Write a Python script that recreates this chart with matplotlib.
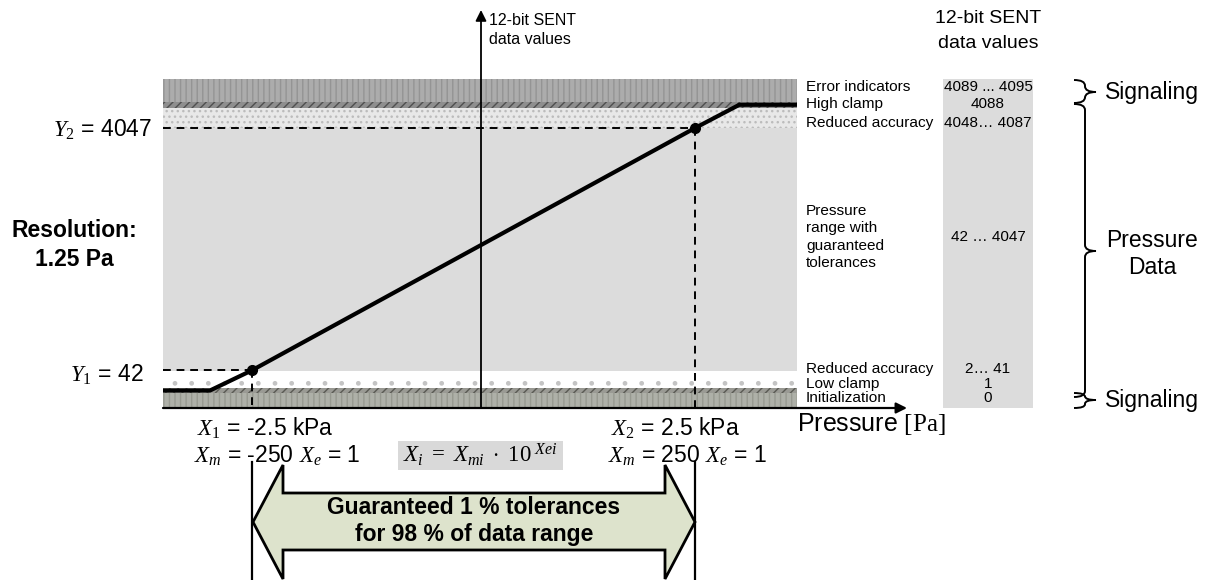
import numpy as np
import matplotlib
matplotlib.use("Agg")
import matplotlib.pyplot as plt
from matplotlib.patches import Polygon, Rectangle, PathPatch
from matplotlib.path import Path

# ---------------- data ----------------
band_labels = ["Initialization", "Low clamp", "Reduced accuracy",
               "Pressure\nrange with\nguaranteed\ntolerances",
               "Reduced accuracy", "High clamp", "Error indicators"]
band_lo = [0, 1, 2, 42, 4048, 4088, 4089]
band_hi = [0, 1, 41, 4047, 4087, 4088, 4095]
band_value_text = ["0", "1", "2\u2026 41", "42 \u2026 4047",
                   "4048\u2026 4087", "4088", "4089 ... 4095"]

transfer_kpa = [-3.5, -2.97, -2.5, 2.5, 3.0, 3.65]
transfer_sent = [1, 1, 42, 4047, 4088, 4088]

x_points_kpa = [-2.5, 2.5]
y_points_sent = [42, 4047]
xm_values = [-250, 250]
xe_values = [1, 1]
resolution_pa = 1.25
tolerance_pct = 1
data_range_pct = 98

# ---------------- layout ----------------
W, H = 1211, 580
plt.rcParams['font.family'] = ['Liberation Sans', 'DejaVu Sans']
plt.rcParams['mathtext.fontset'] = 'custom'
plt.rcParams['mathtext.rm'] = 'Liberation Serif'
plt.rcParams['mathtext.it'] = 'Liberation Serif:italic'
plt.rcParams['mathtext.bf'] = 'Liberation Serif:bold'
plt.rcParams['hatch.linewidth'] = 1.0

fig = plt.figure(figsize=(W / 100, H / 100), dpi=100)

# schematic (non-proportional) vertical scale: SENT value -> screen pixel
sched_vals = [-0.5, 0.5, 1.5, 41.5, 4047.5, 4087.5, 4088.5, 4095.5]
sched_px = np.array([407, 393, 388, 370.5, 128, 108, 101.5, 79], dtype=float)
sched_pos = -sched_px


def fwd(v):
    return np.interp(v, sched_vals, sched_pos)


def inv(p):
    return np.interp(p, sched_pos, sched_vals)


ax_left, ax_right, ax_top, ax_bot = 163, 797, 79, 407
ax = fig.add_axes([ax_left / W, (H - ax_bot) / H,
                   (ax_right - ax_left) / W, (ax_bot - ax_top) / H])
ax.set_yscale('function', functions=(fwd, inv))
ax.set_xlim(transfer_kpa[0], transfer_kpa[-1])
ax.set_ylim(-0.5, 4095.5)
ax.axis('off')

band_styles = [
    dict(facecolor='#aeb0a8', hatch='|||', edgecolor='#979990'),   # init
    dict(facecolor='#9a9a94', hatch='////', edgecolor='#5a5a54'),  # low clamp
    dict(facecolor='#ffffff', hatch='.', edgecolor='#c4c4c4'),     # reduced low
    dict(facecolor='#dcdcdc', hatch=None, edgecolor='#dcdcdc'),    # main
    dict(facecolor='#e8e8e8', hatch='...', edgecolor='#bcbcbc'),   # reduced high
    dict(facecolor='#8e8e8e', hatch='////', edgecolor='#505050'),  # high clamp
    dict(facecolor='#acacac', hatch='|||', edgecolor='#949494'),   # error
]
for lo, hi, st in zip(band_lo, band_hi, band_styles):
    ax.axhspan(lo - 0.5, hi + 0.5, linewidth=0, zorder=1, **st)

# dashed guide lines
for xk, ys in zip(x_points_kpa, y_points_sent):
    ax.plot([transfer_kpa[0], xk], [ys, ys], color='k', lw=1.4,
            dashes=(4, 3), zorder=3)
    ax.plot([xk, xk], [ys, -0.5], color='k', lw=1.4, dashes=(4, 3), zorder=3)

# transfer function
ax.plot(transfer_kpa, transfer_sent, color='k', lw=3, zorder=4,
        solid_capstyle='butt')
ax.plot(x_points_kpa, y_points_sent, 'o', color='k', ms=7, zorder=5)

# ---------------- overlay (annotations) ----------------
ov = fig.add_axes([0, 0, 1, 1])
ov.set_xlim(0, W)
ov.set_ylim(H, 0)
ov.axis('off')

# axes arrows
ov.annotate('', xy=(481, 10), xytext=(481, 408),
            arrowprops=dict(arrowstyle='-|>', lw=1.3, color='k',
                            mutation_scale=16, shrinkA=0, shrinkB=0))
ov.annotate('', xy=(907, 408), xytext=(163, 408),
            arrowprops=dict(arrowstyle='-|>', lw=1.6, color='k',
                            mutation_scale=16, shrinkA=0, shrinkB=0))
ov.text(489, 30, "12-bit SENT\ndata values", fontsize=11.5, ha='left',
        va='center', linespacing=1.3)
ov.text(797, 424, "Pressure $\\mathrm{[Pa]}$", fontsize=18, ha='left',
        va='center')

# band labels on the right
label_y = [398, 384, 369, 237, 123, 104, 87]
for lab, ty, vt in zip(band_labels, label_y, band_value_text):
    ov.text(806, ty, lab, fontsize=11.1, ha='left', va='center',
            linespacing=1.28)
    ov.text(988, ty, vt, fontsize=11, ha='center', va='center')

# value column background
ov.add_patch(Rectangle((943, 79), 90, 329, facecolor='#dcdcdc',
                       edgecolor='none', zorder=0))
ov.text(988, 31, "12-bit SENT\ndata values", fontsize=14, ha='center',
        va='center', linespacing=1.6)


def brace(x0, y0, y1, ytip, w):
    xm = x0 + w * 0.5
    r = min(6, (y1 - y0) / 4)
    verts = [(x0, y0), (xm, y0), (xm, y0 + r),
             (xm, ytip - r), (xm, ytip), (x0 + w, ytip),
             (xm, ytip), (xm, ytip + r),
             (xm, y1 - r), (xm, y1), (x0, y1)]
    codes = [Path.MOVETO, Path.CURVE3, Path.CURVE3,
             Path.LINETO, Path.CURVE3, Path.CURVE3,
             Path.CURVE3, Path.CURVE3,
             Path.LINETO, Path.CURVE3, Path.CURVE3]
    ov.add_patch(PathPatch(Path(verts, codes), facecolor='none',
                           edgecolor='k', lw=1.4))


brace(1074, 80, 103, 92, 22)
brace(1074, 104, 397, 251, 22)
brace(1074, 393, 408, 400, 22)
ov.text(1105, 92, "Signaling", fontsize=16.5, ha='left', va='center')
ov.text(1152, 254, "Pressure\nData", fontsize=16.5, ha='center',
        va='center', linespacing=1.25)
ov.text(1105, 401, "Signaling", fontsize=16.5, ha='left', va='center')

# left labels
ov.text(152, 130, "$Y_{\\mathit{2}}$ = %d" % y_points_sent[1], fontsize=16.5,
        ha='right', va='center')
ov.text(144, 375, "$Y_{\\mathit{1}}$ = %d" % y_points_sent[0], fontsize=16.5,
        ha='right', va='center')
ov.text(74, 245, "Resolution:\n%g Pa" % resolution_pa, fontsize=16.5,
        fontweight='bold', ha='center', va='center', linespacing=1.3)

# x labels
for i, (cx, xk, xm, xe) in enumerate(zip([265, 675], x_points_kpa,
                                         xm_values, xe_values)):
    ov.text(cx, 428, "$X_{\\mathit{%d}}$ = %g kPa" % (i + 1, xk),
            fontsize=16.5, ha='center', va='center')
    ov.text(cx + 12, 456, "$X_m$ = %d $X_e$ = %d" % (xm, xe),
            fontsize=16.5, ha='center', va='center')

# formula box
ov.add_patch(Rectangle((398, 441), 165, 29, facecolor='#d9d9d9',
                       edgecolor='none', zorder=0))
ov.text(480, 455, "$X_i\\ =\\ X_{mi}\\ \\cdot\\ \\mathit{10}^{\\ Xei}$",
        fontsize=16.5, ha='center', va='center')

# tolerance arrow
ov.plot([252, 252], [462, 580], color='k', lw=1.6)
ov.plot([695, 695], [462, 580], color='k', lw=1.6)
arrow_pts = [(253, 522), (283, 465), (283, 493), (665, 493), (665, 465),
             (695, 522), (665, 579), (665, 550), (283, 550), (283, 579)]
ov.add_patch(Polygon(arrow_pts, closed=True, facecolor='#dde3cc',
                     edgecolor='k', lw=2, joinstyle='miter'))
ov.text(474, 521, "Guaranteed %d %% tolerances\nfor %d %% of data range"
        % (tolerance_pct, data_range_pct), fontsize=16.5, fontweight='bold',
        ha='center', va='center', linespacing=1.2)

fig.savefig("out.png", dpi=100)
